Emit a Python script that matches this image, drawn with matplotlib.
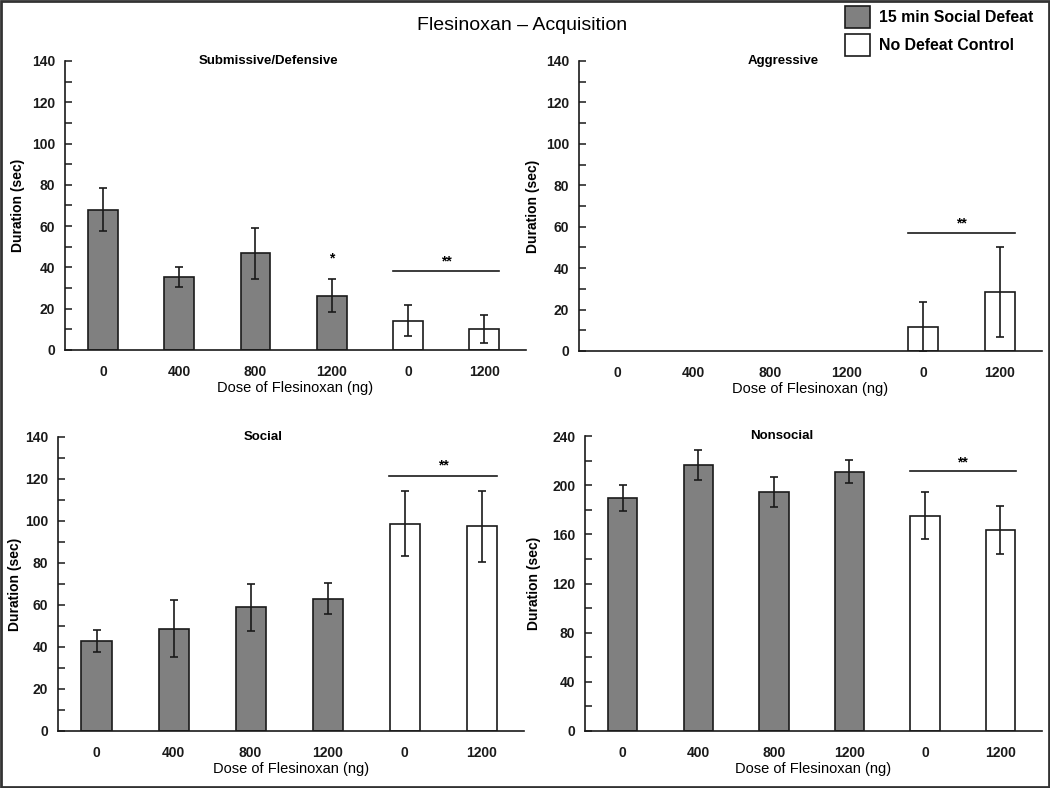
import matplotlib
matplotlib.use("Agg")
import matplotlib.pyplot as plt
from matplotlib.patches import Rectangle
from matplotlib.ticker import MultipleLocator

plt.rcParams['font.family'] = ['Liberation Sans', 'DejaVu Sans']

# ---- data ----
dose_labels = ["0", "400", "800", "1200", "0", "1200"]
groups = ["defeat", "defeat", "defeat", "defeat", "control", "control"]
legend_labels = ["15 min Social Defeat", "No Defeat Control"]

sub_mean = [68.0, 35.3, 46.8, 26.3, 14.2, 10.2]
sub_err = [10.5, 5.0, 12.3, 8.0, 7.4, 6.6]

agg_mean = [0, 0, 0, 0, 11.7, 28.3]
agg_err = [0, 0, 0, 0, 12.0, 21.7]

soc_mean = [42.9, 48.7, 58.9, 62.9, 98.7, 97.5]
soc_err = [5.4, 13.6, 11.2, 7.4, 15.4, 17.0]

non_mean = [189.3, 216.1, 194.4, 211.0, 175.2, 163.8]
non_err = [10.6, 12.2, 12.5, 9.4, 18.9, 19.4]

panel_titles = ["Submissive/Defensive", "Aggressive", "Social", "Nonsocial"]
# significance annotations: (y of line, y of stars)
sub_sig = (38.1, 42.8)
agg_sig = (56.8, 61.6)
soc_sig = (121.3, 126.3)
non_sig = (211.3, 218.5)
sub_single_star = (3, 44.5)

colors = {"defeat": "#808080", "control": "#ffffff"}

W, H = 1050, 788
fig = plt.figure(figsize=(W / 100, H / 100), dpi=100)


def px_axes(left, right, bottom, top):
    return fig.add_axes([left / W, 1 - bottom / H, (right - left) / W, (bottom - top) / H])


def draw_panel(ax, means, errs, ymax, major, minor, title, title_x, sig, ylab_x):
    xs = list(range(len(means)))
    for x, m, e, g in zip(xs, means, errs, groups):
        if m > 0:
            ax.bar(x, m, width=0.39, color=colors[g], edgecolor="#1a1a1a", linewidth=1.2, zorder=2)
        if e > 0:
            ax.errorbar(x, m, yerr=e, fmt="none", ecolor="#1a1a1a", elinewidth=1.2,
                        capsize=3.2, capthick=1.2, zorder=3)
    ax.set_xlim(-0.5, 5.55)
    ax.set_ylim(0, ymax)
    ax.yaxis.set_major_locator(MultipleLocator(major))
    ax.yaxis.set_minor_locator(MultipleLocator(minor))
    ax.set_xticks(xs)
    ax.set_xticklabels(dose_labels)
    for s in ["top", "right"]:
        ax.spines[s].set_visible(False)
    ax.spines["left"].set_linewidth(1.2)
    ax.spines["bottom"].set_linewidth(1.2)
    ax.spines["left"].set_color("#1a1a1a")
    ax.spines["bottom"].set_color("#1a1a1a")
    ax.tick_params(axis="y", which="both", direction="in", length=5, width=1.1,
                   labelsize=10, pad=7, colors="#1a1a1a")
    ax.tick_params(axis="x", which="both", length=0, labelsize=10, pad=11, colors="#1a1a1a")
    for lab in ax.get_xticklabels() + ax.get_yticklabels():
        lab.set_fontweight("bold")
    ax.set_xlabel("Dose of Flesinoxan (ng)", fontsize=10.5, labelpad=1)
    ax.set_ylabel("Duration (sec)", fontsize=10, fontweight="bold", va="center")
    ax.yaxis.set_label_coords(ylab_x, 0.5)
    ax.text(title_x, 1.0, title, transform=ax.transAxes, ha="center", va="center",
            fontsize=9.5, fontweight="bold")
    line_y, star_y = sig
    ax.plot([4 - 0.2, 5 + 0.2], [line_y, line_y], color="#1a1a1a", lw=1.2, clip_on=False)
    ax.text(4.5, star_y, "**", ha="center", va="center", fontsize=10, fontweight="bold")


ax1 = px_axes(65, 526, 350, 61)
ax2 = px_axes(579, 1042, 351, 61)
ax3 = px_axes(58, 524, 731, 437)
ax4 = px_axes(585, 1042, 731, 436)

draw_panel(ax1, sub_mean, sub_err, 140, 20, 10, panel_titles[0], (268 - 65) / 461, sub_sig, -0.102)
ax1.text(sub_single_star[0], sub_single_star[1], "*", ha="center", va="center",
         fontsize=10, fontweight="bold")
draw_panel(ax2, agg_mean, agg_err, 140, 20, 10, panel_titles[1], (783 - 579) / 463, agg_sig, -0.099)
draw_panel(ax3, soc_mean, soc_err, 140, 20, 10, panel_titles[2], (263 - 58) / 466, soc_sig, -0.092)
draw_panel(ax4, non_mean, non_err, 240, 40, 20, panel_titles[3], (782 - 585) / 457, non_sig, -0.112)

# main title
fig.text(522 / W, 1 - 25 / H, "Flesinoxan \u2013 Acquisition", ha="center", va="center", fontsize=14)

# legend (manual)
for i, (lab, g) in enumerate(zip(legend_labels, ["defeat", "control"])):
    top = 6 + i * 28
    fig.patches.append(Rectangle((845 / W, 1 - (top + 22) / H), 25 / W, 22 / H,
                                 transform=fig.transFigure, facecolor=colors[g],
                                 edgecolor="#1a1a1a", linewidth=1.2))
    fig.text(879 / W, 1 - (top + 11) / H, lab, ha="left", va="center", fontsize=11.4,
             fontweight="bold")

# figure border
fig.patches.append(Rectangle((0.001, 0.001), 0.998, 0.998, transform=fig.transFigure,
                             fill=False, edgecolor="#333333", linewidth=2))

fig.savefig("out.png", dpi=100)
